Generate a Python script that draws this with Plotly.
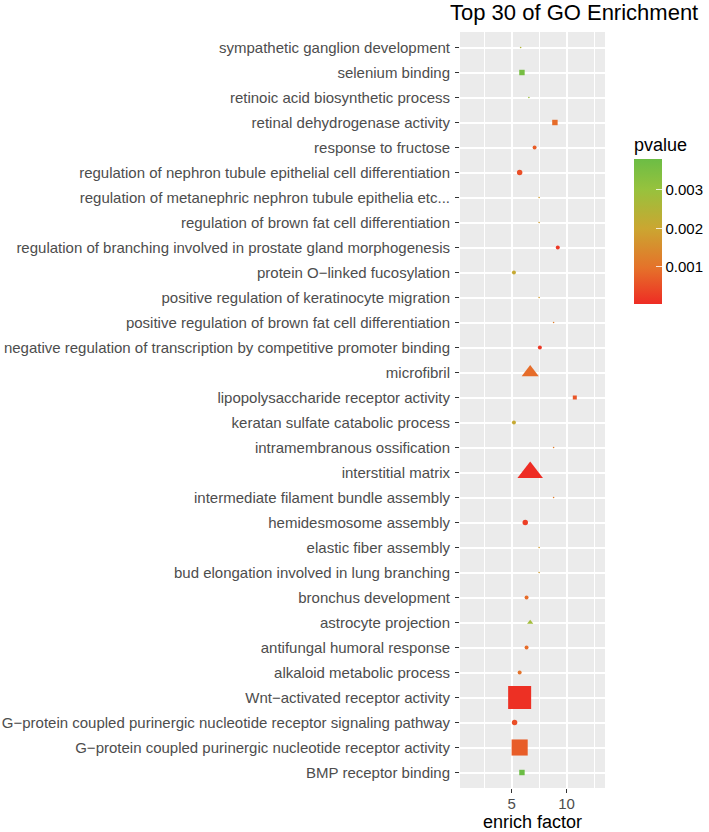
import plotly.graph_objects as go

# ---- data (top to bottom as shown) ----
terms = [
    "sympathetic ganglion development",
    "selenium binding",
    "retinoic acid biosynthetic process",
    "retinal dehydrogenase activity",
    "response to fructose",
    "regulation of nephron tubule epithelial cell differentiation",
    "regulation of metanephric nephron tubule epithelia etc...",
    "regulation of brown fat cell differentiation",
    "regulation of branching involved in prostate gland morphogenesis",
    "protein O\u2212linked fucosylation",
    "positive regulation of keratinocyte migration",
    "positive regulation of brown fat cell differentiation",
    "negative regulation of transcription by competitive promoter binding",
    "microfibril",
    "lipopolysaccharide receptor activity",
    "keratan sulfate catabolic process",
    "intramembranous ossification",
    "interstitial matrix",
    "intermediate filament bundle assembly",
    "hemidesmosome assembly",
    "elastic fiber assembly",
    "bud elongation involved in lung branching",
    "bronchus development",
    "astrocyte projection",
    "antifungal humoral response",
    "alkaloid metabolic process",
    "Wnt\u2212activated receptor activity",
    "G\u2212protein coupled purinergic nucleotide receptor signaling pathway",
    "G\u2212protein coupled purinergic nucleotide receptor activity",
    "BMP receptor binding",
]
enrich_factor = [5.82, 5.94, 6.57, 8.94, 7.09, 5.73, 7.50, 7.50, 9.20, 5.21,
                 7.50, 8.82, 7.57, 6.69, 10.75, 5.21, 8.82, 6.69, 8.82, 6.24,
                 7.50, 7.50, 6.36, 6.69, 6.36, 5.73, 5.73, 5.27, 5.73, 5.94]
pvalue = [0.0025, 0.0036, 0.0029, 0.0009, 0.0007, 0.0005, 0.0018, 0.0018, 0.0002, 0.0021,
          0.0018, 0.0012, 0.0002, 0.0009, 0.0006, 0.0021, 0.0012, 0.00004, 0.0012, 0.0003,
          0.0018, 0.0018, 0.0009, 0.0028, 0.0009, 0.0010, 0.0001, 0.0005, 0.0007, 0.0038]
count = [1, 3, 1, 3, 2, 3, 1, 1, 2, 2,
         1, 1, 2, 17, 2, 2, 1, 37, 1, 3,
         1, 1, 2, 3, 2, 2, 40, 3, 20, 3]
ontology = ["BP", "MF", "BP", "MF", "BP", "BP", "BP", "BP", "BP", "BP",
            "BP", "BP", "BP", "CC", "MF", "BP", "BP", "CC", "BP", "BP",
            "BP", "BP", "BP", "CC", "BP", "BP", "MF", "BP", "MF", "MF"]
x_ticks = [5, 10]

# ---- styling ----
FONT = "Liberation Sans, Arial, sans-serif"
symbol_map = {"BP": "circle", "CC": "triangle-up", "MF": "square"}
d_min, d_max = 1.6, 23.0
cmin_c, cmax_c = min(count), max(count)


def size_of(c):
    frac = (c - cmin_c) / (cmax_c - cmin_c)
    return (d_min ** 2 + (d_max ** 2 - d_min ** 2) * frac) ** 0.5


colorscale = [
    [0.0, "#EE2C24"],
    [0.25, "#E5722A"],
    [0.52, "#CBA631"],
    [0.79, "#97C23D"],
    [1.0, "#6CBD45"],
]

y_order = list(reversed(terms))

W, H = 709, 832
ML, MR, MT, MB = 460, 104, 32, 44

fig = go.Figure()
fig.add_trace(go.Scatter(
    x=enrich_factor,
    y=terms,
    mode="markers",
    marker=dict(
        size=[size_of(c) for c in count],
        symbol=[symbol_map[o] for o in ontology],
        color=pvalue,
        colorscale=colorscale,
        cmin=min(pvalue),
        cmax=max(pvalue),
        line=dict(width=0),
        opacity=1,
        colorbar=dict(
            title=dict(text="pvalue", side="top",
                       font=dict(family=FONT, size=18, color="#000000")),
            thickness=28,
            len=170, lenmode="pixels",
            x=1.2, xanchor="left", xpad=0,
            y=0.6402, yanchor="bottom", ypad=0,
            outlinewidth=0,
            tickvals=[0.001, 0.002, 0.003],
            ticktext=["0.001", "0.002", "0.003"],
            ticks="inside", ticklen=6, tickcolor="rgba(255,255,255,0.8)", tickwidth=1,
            tickfont=dict(family=FONT, size=15, color="#000000"),
        ),
    ),
    showlegend=False,
    hoverinfo="x+y",
))

fig.update_layout(
    width=W, height=H,
    margin=dict(l=ML, r=MR, t=MT, b=MB, pad=0, autoexpand=False),
    paper_bgcolor="white",
    plot_bgcolor="#EBEBEB",
    font=dict(family=FONT, color="#4D4D4D"),
    title=dict(text="Top 30 of GO Enrichment", x=450 / W, xref="container", xanchor="left",
               y=1 - 12.5 / H, yref="container", yanchor="middle",
               font=dict(family=FONT, size=22, color="#000000")),
)
fig.update_xaxes(
    range=[0.3, 13.5],
    tickvals=x_ticks,
    ticktext=[str(v) for v in x_ticks],
    showgrid=True, gridcolor="white", gridwidth=1.8,
    minor=dict(tickvals=[2.5, 7.5, 12.5], showgrid=True, gridcolor="white", gridwidth=0.9, ticks=""),
    zeroline=False,
    showline=False,
    ticks="outside", ticklen=4, tickcolor="#333333", tickwidth=1,
    tickfont=dict(family=FONT, size=15, color="#4D4D4D"),
    ticklabelstandoff=-2,
    title=dict(text="enrich factor", standoff=5, font=dict(family=FONT, size=18, color="#000000")),
    automargin=False,
)
fig.update_yaxes(
    type="category",
    categoryorder="array", categoryarray=y_order,
    range=[-0.62, 29.62],
    showgrid=True, gridcolor="white", gridwidth=1.8,
    zeroline=False, showline=False,
    ticks="outside", ticklen=4, tickcolor="#333333", tickwidth=1,
    tickfont=dict(family=FONT, size=15, color="#4D4D4D"),
    ticklabelstandoff=2,
    automargin=False,
)

fig.write_html(
    "out.html",
    config={"displayModeBar": False},
    post_script="document.body.style.margin='0';document.body.style.overflow='hidden';",
)
